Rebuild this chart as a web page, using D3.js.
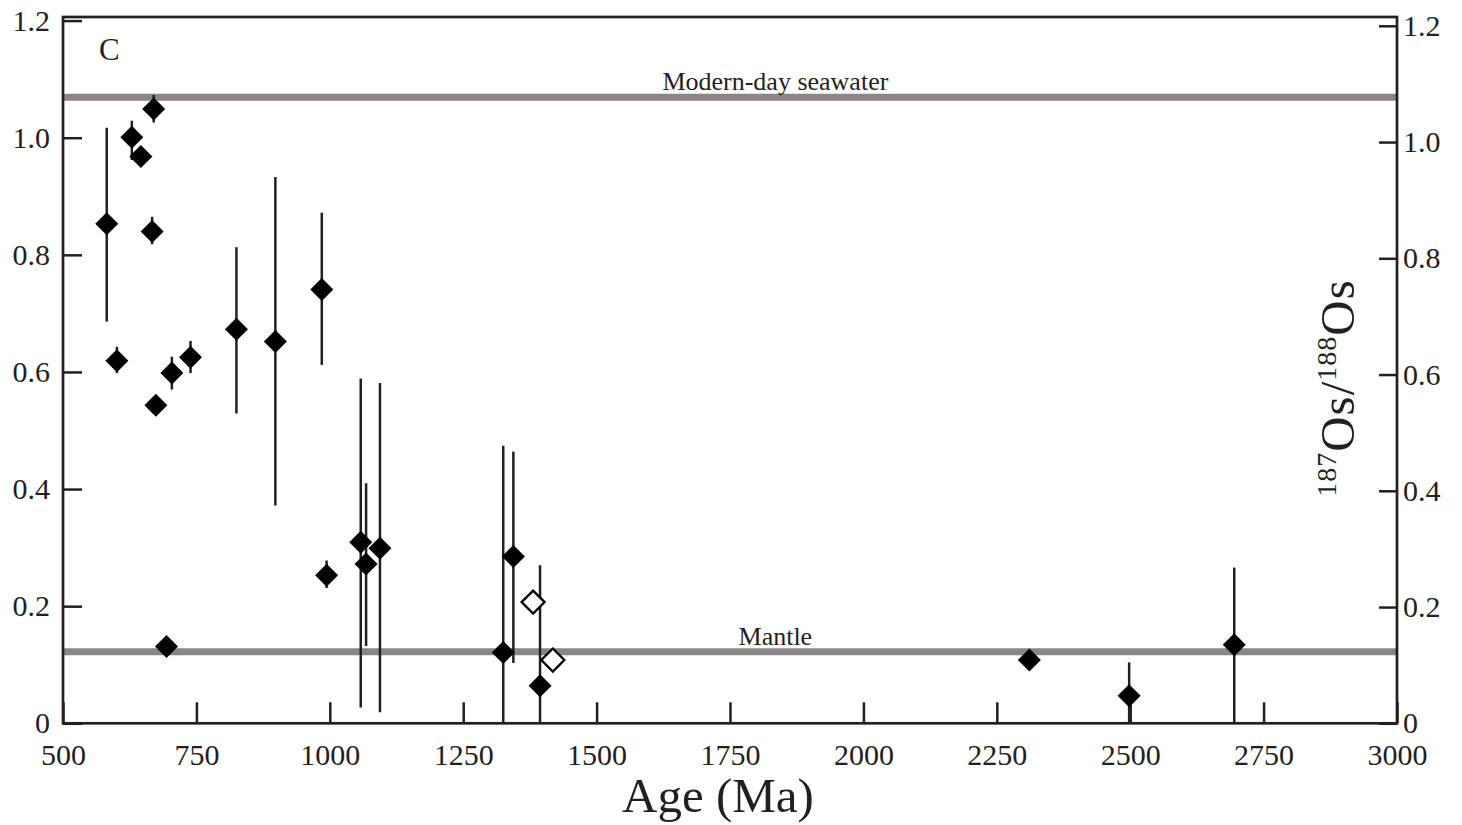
<!DOCTYPE html>
<html>
<head>
<meta charset="utf-8">
<script src="https://cdn.jsdelivr.net/npm/d3@7"></script>
<style>
  html, body { margin: 0; padding: 0; background: #fff; }
  svg { display: block; }
  text { font-family: "Liberation Serif", "Times New Roman", serif; fill: #231f20; }
</style>
</head>
<body>
<svg id="chart" width="1462" height="825"></svg>
<script>
// ---- Data ----
// filled symbols: age (Ma), 187Os/188Os, lower and upper end of error bar (null = no bar)
const filledAge = [582, 601, 629, 646, 667, 670, 674, 694, 704, 739, 825, 898, 985, 994, 1058, 1068, 1094, 1325, 1344, 1394, 2311, 2498, 2695];
const filledVal = [0.853, 0.619, 1.001, 0.968, 0.840, 1.049, 0.543, 0.131, 0.598, 0.625, 0.673, 0.652, 0.741, 0.253, 0.309, 0.272, 0.299, 0.121, 0.285, 0.064, 0.108, 0.047, 0.134];
const filledLo  = [0.686, 0.598, 0.962, null, 0.818, 1.026, null, null, 0.570, 0.598, 0.529, 0.372, 0.612, 0.231, 0.027, 0.132, 0.019, 0.0, 0.103, 0.0, null, 0.0, 0.0];
const filledHi  = [1.017, 0.643, 1.029, null, 0.865, 1.073, null, null, 0.626, 0.653, 0.813, 0.933, 0.872, 0.278, 0.589, 0.410, 0.581, 0.474, 0.464, 0.270, null, 0.104, 0.266];
// open symbols
const openAge = [1381, 1418];
const openVal = [0.207, 0.108];
// reference lines
const refNames  = ["Modern-day seawater", "Mantle"];
const refValues = [1.069, 0.122];
const refLabelAge = 1835;
// axes
const xTicks = [500, 750, 1000, 1250, 1500, 1750, 2000, 2250, 2500, 2750, 3000];
const yTicks = [0, 0.2, 0.4, 0.6, 0.8, 1.0, 1.2];
const xDomain = [500, 3000];
const yDomain = [0, 1.2];
const panelLabel = "C";

// ---- Layout ----
const W = 1462, H = 825;
const frame = { left: 63, right: 1397, top: 17, bottom: 723.3 };
const ink = "#231f20";
const grey = "#8a8687";

const svg = d3.select("#chart");
svg.append("rect").attr("width", W).attr("height", H).attr("fill", "#fff");

const x = d3.scaleLinear().domain(xDomain).range([frame.left, frame.right]);
const y = d3.scaleLinear().domain(yDomain).range([frame.bottom, 20.6]);
const yR = d3.scaleLinear().domain(yDomain).range([frame.bottom, 25.8]);

const fmtY = d => d === 0 ? "0" : d3.format(".1f")(d);

// reference lines
const refData = refNames.map((n, i) => ({ name: n, v: refValues[i] }));
svg.append("g").selectAll("line").data(refData).join("line")
  .attr("x1", frame.left).attr("x2", frame.right)
  .attr("y1", d => y(d.v)).attr("y2", d => y(d.v))
  .attr("stroke", grey).attr("stroke-width", 7);
svg.append("g").selectAll("text").data(refData).join("text")
  .attr("x", x(refLabelAge)).attr("y", d => y(d.v) - 7)
  .attr("text-anchor", "middle").attr("font-size", 26)
  .text(d => d.name);

// axes
const xAxis = d3.axisBottom(x).tickValues(xTicks).tickSizeInner(-21).tickSizeOuter(0).tickPadding(20).tickFormat(d3.format("d"));
const gx = svg.append("g").attr("transform", `translate(0,${frame.bottom})`).call(xAxis);
gx.select(".domain").remove();
gx.selectAll(".tick line").attr("stroke", ink).attr("stroke-width", 2.5);
gx.selectAll(".tick text").attr("font-size", 30).attr("fill", ink).attr("font-family", "Liberation Serif, Times New Roman, serif");

const yAxisL = d3.axisLeft(y).tickValues(yTicks).tickSizeInner(-19).tickSizeOuter(0).tickPadding(13).tickFormat(fmtY);
const gyl = svg.append("g").attr("transform", `translate(${frame.left},0)`).call(yAxisL);
gyl.select(".domain").remove();
gyl.selectAll(".tick line").attr("stroke", ink).attr("stroke-width", 2.5);
gyl.selectAll(".tick text").attr("font-size", 30).attr("fill", ink).attr("font-family", "Liberation Serif, Times New Roman, serif");

const yAxisR = d3.axisRight(yR).tickValues(yTicks).tickSizeInner(-18).tickSizeOuter(0).tickPadding(6).tickFormat(fmtY);
const gyr = svg.append("g").attr("transform", `translate(${frame.right},0)`).call(yAxisR);
gyr.select(".domain").remove();
gyr.selectAll(".tick line").attr("stroke", ink).attr("stroke-width", 2.5);
gyr.selectAll(".tick text").attr("font-size", 30).attr("fill", ink).attr("font-family", "Liberation Serif, Times New Roman, serif");

// frame
svg.append("rect")
  .attr("x", frame.left).attr("y", frame.top)
  .attr("width", frame.right - frame.left).attr("height", frame.bottom - frame.top)
  .attr("fill", "none").attr("stroke", ink).attr("stroke-width", 2.7);

// data
const filled = filledAge.map((a, i) => ({ a, v: filledVal[i], lo: filledLo[i], hi: filledHi[i] }));
const opens = openAge.map((a, i) => ({ a, v: openVal[i] }));

svg.append("g").selectAll("line").data(filled.filter(d => d.lo !== null)).join("line")
  .attr("x1", d => x(d.a)).attr("x2", d => x(d.a))
  .attr("y1", d => y(d.lo)).attr("y2", d => y(d.hi))
  .attr("stroke", ink).attr("stroke-width", 2.5);

const diamond = r => `M0,${-r}L${r},0L0,${r}L${-r},0Z`;
svg.append("g").selectAll("path").data(filled).join("path")
  .attr("transform", d => `translate(${x(d.a)},${y(d.v)})`)
  .attr("d", diamond(11.5)).attr("fill", "#000");
svg.append("g").selectAll("path").data(opens).join("path")
  .attr("transform", d => `translate(${x(d.a)},${y(d.v)})`)
  .attr("d", diamond(11.5)).attr("fill", "#fff").attr("stroke", "#000").attr("stroke-width", 2.3);

// panel label
svg.append("text").attr("x", frame.left + 36).attr("y", 60).attr("font-size", 31).text(panelLabel);

// axis titles
svg.append("text").attr("x", 718).attr("y", 812)
  .attr("text-anchor", "middle").attr("font-size", 49).text("Age (Ma)");

const yt = svg.append("text").attr("transform", "translate(1354,388) rotate(-90)")
  .attr("text-anchor", "middle").attr("font-size", 49).attr("letter-spacing", 1);
yt.append("tspan").attr("font-size", 28).attr("dy", -18).text("187");
yt.append("tspan").attr("dy", 18).text("Os/");
yt.append("tspan").attr("font-size", 28).attr("dy", -18).text("188");
yt.append("tspan").attr("dy", 18).text("Os");
</script>
</body>
</html>
